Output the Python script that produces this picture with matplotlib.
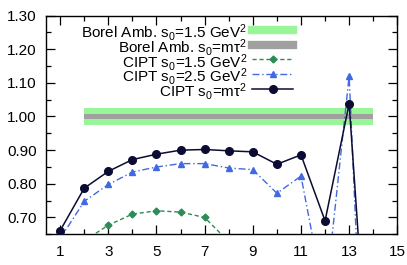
import matplotlib
matplotlib.use("Agg")
import matplotlib.pyplot as plt
import matplotlib.ticker as mticker
from matplotlib.lines import Line2D

plt.rcParams["font.family"] = ["Liberation Sans", "DejaVu Sans"]
plt.rcParams["mathtext.fontset"] = "custom"
plt.rcParams["mathtext.rm"] = "Liberation Sans"
plt.rcParams["mathtext.it"] = "Liberation Sans:italic"

# data
x = [1, 2, 3, 4, 5, 6, 7, 8, 9, 10, 11, 12, 13, 14]
cipt_mtau = [0.661, 0.787, 0.837, 0.872, 0.888, 0.900, 0.902, 0.898, 0.895,
             0.858, 0.886, 0.690, 1.038, 0.0]
cipt_25 = [0.637, 0.748, 0.798, 0.835, 0.850, 0.860, 0.860, 0.847, 0.842,
           0.772, 0.823, 0.45, 1.120, -0.5]
x_15 = [2, 3, 4, 5, 6, 7, 8]
cipt_15 = [0.631, 0.677, 0.710, 0.720, 0.716, 0.700, 0.628]

band_x = [2, 14]
borel15_lo, borel15_hi = 0.975, 1.025
borelmt_lo, borelmt_hi = 0.994, 1.006

labels = [
    r"Borel Amb. s$_0$=1.5 GeV$^2$",
    r"Borel Amb. s$_0$=mτ$^2$",
    r"CIPT s$_0$=1.5 GeV$^2$",
    r"CIPT s$_0$=2.5 GeV$^2$",
    r"CIPT s$_0$=mτ$^2$",
]

GREEN_BAND = "#98f598"
GRAY_BAND = "#a0a0a0"
GREEN = "#2e8b57"
BLUE = "#4169e1"
NAVY = "#0b0b33"

W, H = 407, 265
fig = plt.figure(figsize=(W / 100, H / 100), dpi=100)
ax = fig.add_axes([0.1123, 0.1158, 0.8639, 0.8257])

ax.fill_between(band_x, borel15_lo, borel15_hi, color=GREEN_BAND, lw=0, zorder=1)
ax.fill_between(band_x, borelmt_lo, borelmt_hi, color=GRAY_BAND, lw=0, zorder=2)
s15 = dict(color=GREEN, ls=(0, (3, 2)), lw=1.0, marker="D", ms=3.5)
s25 = dict(color=BLUE, ls=(0, (5, 2, 1, 2)), lw=1.0, marker="^", ms=4.5)
smt = dict(color=NAVY, lw=1.1, marker="o", ms=5.5)
ax.plot(x_15, cipt_15, zorder=3, **s15)
ax.plot(x, cipt_25, zorder=4, **s25)
ax.plot(x, cipt_mtau, zorder=5, **smt)

ax.set_xlim(0.4, 15)
ax.set_ylim(0.65, 1.30)
ax.xaxis.set_major_locator(mticker.MultipleLocator(2, offset=1))
ax.xaxis.set_minor_locator(mticker.MultipleLocator(1))
ax.yaxis.set_major_locator(mticker.MultipleLocator(0.1))
ax.yaxis.set_minor_locator(mticker.MultipleLocator(0.05))
ax.yaxis.set_major_formatter(mticker.FormatStrFormatter("%.2f"))
ax.tick_params(which="both", direction="in", top=True, right=True,
               labelsize=11, width=0.9)
ax.tick_params(which="major", length=6.5)
ax.tick_params(which="minor", length=3.5)
ax.tick_params(axis="x", which="major", pad=8)
ax.tick_params(axis="y", which="major", pad=6.5)
for s in ax.spines.values():
    s.set_linewidth(1.0)

# gnuplot-style key: right-aligned labels, sample to the right
keys = [dict(color=GREEN_BAND, lw=6), dict(color=GRAY_BAND, lw=6), s15, s25, smt]
for i, (lab, st) in enumerate(zip(labels, keys)):
    yk = 1 - (30 + 14.7 * i) / H
    fig.text(247 / W, yk, lab, ha="right", va="center_baseline", fontsize=11)
    st = dict(st)
    mk = st.pop("marker", None)
    ms = st.pop("ms", None)
    fig.add_artist(Line2D([252 / W, 293 / W], [yk, yk], transform=fig.transFigure, **st))
    if mk:
        fig.add_artist(Line2D([272.5 / W], [yk], transform=fig.transFigure,
                              marker=mk, ms=ms, color=st["color"], ls="none"))

fig.savefig("out.png", dpi=100)
